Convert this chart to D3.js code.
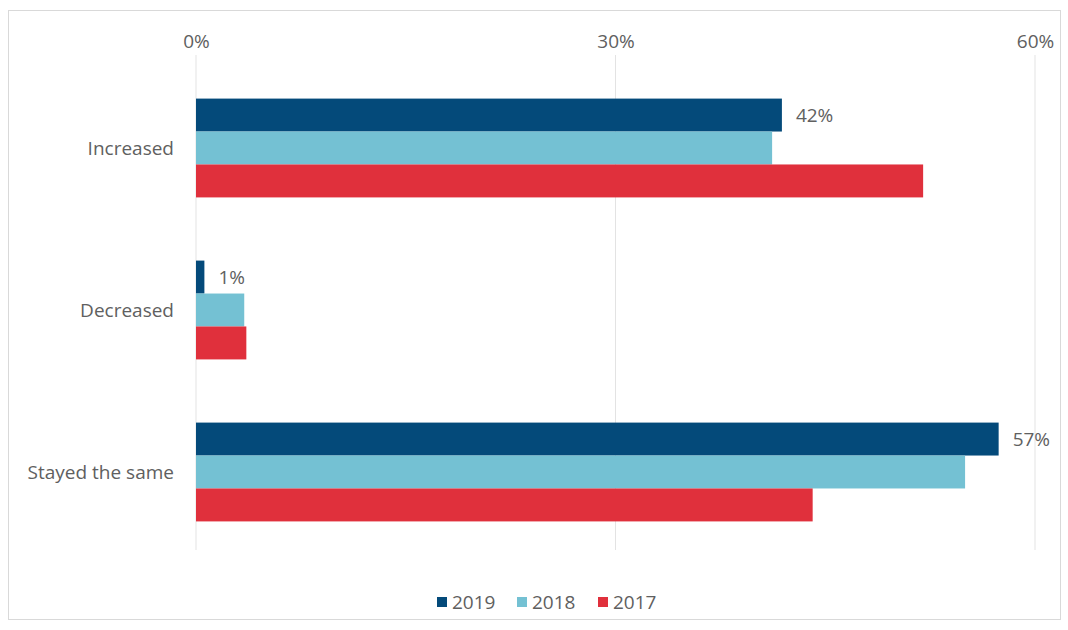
<!DOCTYPE html>
<html><head><meta charset="utf-8">
<script src="https://cdn.jsdelivr.net/npm/d3@7/dist/d3.min.js"></script>
<style>body{margin:0;background:#fff;font-family:"Open Sans",sans-serif;}</style>
</head><body>
<svg id="chart" width="1068" height="630"></svg>
<script>
const categories = ["Increased", "Decreased", "Stayed the same"];
const seriesNames = ["2019", "2018", "2017"];
const values2019 = [41.9, 0.6, 57.4];
const values2018 = [41.2, 3.45, 55.0];
const values2017 = [52.0, 3.6, 44.1];
const labels2019 = ["42%", "1%", "57%"];
const tickValues = [0, 30, 60];
const colors = ["#044a7a", "#74c1d3", "#e0303c"];

const seriesValues = [values2019, values2018, values2017];
const svg = d3.select("#chart");
const FS = "19px";
const TXT = "#606060";

// frame
svg.append("rect").attr("x", 8.5).attr("y", 10.5).attr("width", 1052).attr("height", 609)
  .attr("fill", "none").attr("stroke", "#d9d9d9").attr("stroke-width", 1);

const x = d3.scaleLinear().domain([0, 60]).range([196, 1035]);
const y = d3.scaleBand().domain(categories).range([67, 553]).paddingInner(0.39).paddingOuter(0.195);
const ySub = d3.scaleBand().domain(seriesNames).range([0, y.bandwidth()]);

// gridlines
svg.append("g").selectAll("line").data(tickValues).join("line")
  .attr("x1", d => x(d)).attr("x2", d => x(d)).attr("y1", 55).attr("y2", 550)
  .attr("stroke", "#e3e3e3").attr("stroke-width", 1);

// top axis
const axis = d3.axisTop(x).tickValues(tickValues).tickFormat(d => d + "%").tickSize(0).tickPadding(0);
const ga = svg.append("g").attr("transform", "translate(0,48)").call(axis);
ga.select(".domain").remove();
ga.selectAll("text").attr("fill", TXT).style("font-size", FS).style("font-family", "Open Sans");

// category axis
const ay = d3.axisLeft(y).tickSize(0).tickPadding(22);
const gy = svg.append("g").attr("transform", "translate(196,1)").call(ay);
gy.select(".domain").remove();
gy.selectAll("text").attr("fill", TXT).style("font-size", FS).style("font-family", "Open Sans");

// bars
seriesNames.forEach((s, i) => {
  svg.append("g").selectAll("rect").data(categories).join("rect")
    .attr("x", x(0))
    .attr("y", c => y(c) + ySub(s))
    .attr("width", (c, j) => x(seriesValues[i][j]) - x(0))
    .attr("height", ySub.bandwidth())
    .attr("fill", colors[i]);
});

// labels on 2019
svg.append("g").selectAll("text").data(categories).join("text")
  .attr("x", (c, j) => x(values2019[j]) + 14)
  .attr("y", c => y(c) + ySub("2019") + ySub.bandwidth() / 2)
  .attr("dy", "0.35em")
  .attr("fill", TXT).style("font-size", FS)
  .text((c, j) => labels2019[j]);

// legend
const legendX = [437, 517, 598];
const lg = svg.append("g");
seriesNames.forEach((s, i) => {
  lg.append("rect").attr("x", legendX[i]).attr("y", 597).attr("width", 10).attr("height", 10).attr("fill", colors[i]);
  lg.append("text").attr("x", legendX[i] + 15).attr("y", 602).attr("dy", "0.35em")
    .attr("fill", TXT).style("font-size", FS).text(s);
});
</script>
</body></html>
